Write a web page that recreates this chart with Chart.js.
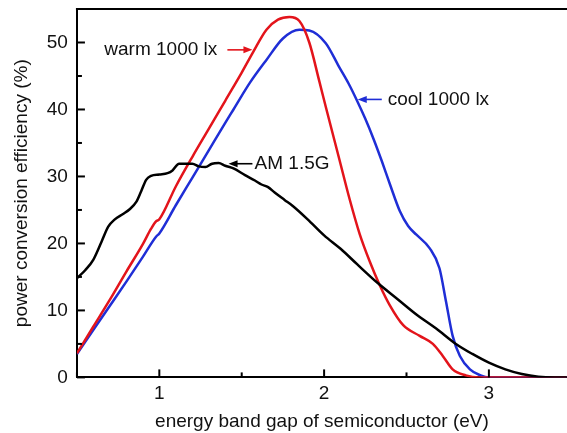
<!DOCTYPE html>
<html><head><meta charset="utf-8">
<script src="https://cdn.jsdelivr.net/npm/chart.js@4"></script>
<style>html,body{margin:0;padding:0;background:#fff;}#wrap{width:567px;height:433px;position:relative;}</style>
</head><body><div id="wrap"><canvas id="c"></canvas></div>
<script>
// ---- data ----
const amX   = [0.50,0.55,0.60,0.65,0.69,0.73,0.78,0.82,0.86,0.89,0.92,0.95,1.00,1.05,1.08,1.12,1.20,1.24,1.28,1.32,1.36,1.40,1.45,1.52,1.58,1.62,1.66,1.70,1.76,1.81,1.90,2.00,2.10,2.20,2.32,2.45,2.56,2.68,2.80,2.90,3.00,3.10,3.20,3.30,3.40,3.47];
const amY   = [14.8,16.0,17.6,20.3,22.5,23.6,24.4,25.1,26.2,27.8,29.5,30.1,30.3,30.5,30.9,31.9,31.9,31.5,31.4,31.9,32.0,31.6,31.2,30.2,29.4,28.8,28.4,27.6,26.5,25.6,23.6,21.2,19.2,16.9,14.2,11.6,9.4,7.3,5.0,3.5,2.2,1.2,0.5,0.1,0,0];
const warmX = [0.50,0.60,0.70,0.80,0.90,0.95,0.98,1.00,1.10,1.20,1.30,1.40,1.50,1.57,1.65,1.72,1.79,1.85,1.91,1.97,2.01,2.05,2.09,2.155,2.216,2.277,2.337,2.398,2.48,2.58,2.66,2.72,2.78,2.86,2.94,3.47];
const warmY = [3.6,7.6,11.6,15.8,19.9,22.2,23.3,23.6,28.5,32.9,37.1,41.3,45.5,48.6,51.9,53.4,53.8,53.2,50.0,44.3,40.4,36.6,32.8,26.6,21.4,17.3,13.8,10.8,7.8,6.2,5.0,3.2,1.2,0.3,0,0];
const coolX = [0.50,0.60,0.70,0.80,0.90,0.98,1.00,1.10,1.20,1.30,1.40,1.45,1.55,1.65,1.75,1.85,1.91,2.01,2.09,2.15,2.20,2.25,2.30,2.35,2.40,2.46,2.51,2.56,2.64,2.70,2.74,2.78,2.824,2.885,2.95,3.00,3.47];
const coolY = [3.5,7.1,10.7,14.3,18.0,21.0,21.5,25.7,29.8,33.9,38.0,40.0,44.0,47.4,50.6,51.9,51.8,49.9,46.4,43.8,41.3,38.6,35.6,32.3,28.8,24.8,22.6,21.3,19.3,16.3,11.3,6.2,3.2,1.2,0.3,0,0];
const seriesNames = ['AM 1.5G','warm 1000 lx','cool 1000 lx'];
const xTickValues = [0.5,1,1.5,2,2.5,3,3.5];
const xTickLabels = ['','1','','2','','3',''];
const yTickValues = [0,5,10,15,20,25,30,35,40,45,50,55];
const yTickLabels = ['0','','10','','20','','30','','40','','50',''];

const FONT = "'Liberation Sans', Arial, Helvetica, sans-serif";
Chart.defaults.font.family = FONT;
Chart.defaults.font.size = 19;
Chart.defaults.color = '#111';

const pts = (xs, ys) => xs.map((x, i) => ({x, y: ys[i]}));

const annotations = [
  {text: 'warm 1000 lx', color: '#e3141b', tx: 0.666, ty: 48.9, ax0: 1.413, ax1: 1.565},
  {text: 'cool 1000 lx', color: '#1f2ed6', tx: 2.386, ty: 41.5, ax0: 2.350, ax1: 2.204},
  {text: 'AM 1.5G',      color: '#000000', tx: 1.578, ty: 31.9, ax0: 1.565, ax1: 1.420}
];

const decor = {
  id: 'decor',
  afterDraw(chart) {
    const {ctx, chartArea: a, scales: {x, y}} = chart;
    ctx.save();
    ctx.strokeStyle = '#000';
    ctx.lineWidth = 2;
    ctx.beginPath(); ctx.moveTo(a.left - 1, a.top); ctx.lineTo(a.right, a.top); ctx.stroke();
    x.ticks.forEach((t) => {
      const px = x.getPixelForValue(t.value);
      const len = (t.value % 1 === 0) ? 8 : 5;
      ctx.beginPath(); ctx.moveTo(px, a.bottom); ctx.lineTo(px, a.bottom - len); ctx.stroke();
    });
    y.ticks.forEach((t) => {
      const py = y.getPixelForValue(t.value);
      const len = (t.value % 10 === 0) ? 8 : 5;
      ctx.beginPath(); ctx.moveTo(a.left, py); ctx.lineTo(a.left + len, py); ctx.stroke();
    });
    ctx.font = '19px ' + FONT;
    ctx.textBaseline = 'middle';
    ctx.textAlign = 'left';
    annotations.forEach(an => {
      ctx.fillStyle = '#111';
      ctx.fillText(an.text, x.getPixelForValue(an.tx), y.getPixelForValue(an.ty));
      const py = y.getPixelForValue(an.ty);
      const p0 = x.getPixelForValue(an.ax0), p1 = x.getPixelForValue(an.ax1);
      const dir = Math.sign(p1 - p0);
      ctx.strokeStyle = an.color; ctx.fillStyle = an.color; ctx.lineWidth = 1.6;
      ctx.beginPath(); ctx.moveTo(p0, py); ctx.lineTo(p1 - dir * 6, py); ctx.stroke();
      ctx.beginPath(); ctx.moveTo(p1, py); ctx.lineTo(p1 - dir * 9, py - 3.5); ctx.lineTo(p1 - dir * 9, py + 3.5); ctx.closePath(); ctx.fill();
    });
    ctx.restore();
  }
};

new Chart(document.getElementById('c'), {
  type: 'line',
  data: {
    datasets: [
      {label: seriesNames[0], data: pts(amX, amY), borderColor: '#000000'},
      {label: seriesNames[1], data: pts(warmX, warmY), borderColor: '#e3141b'},
      {label: seriesNames[2], data: pts(coolX, coolY), borderColor: '#1f2ed6'}
    ]
  },
  options: {
    responsive: true,
    maintainAspectRatio: false,
    animation: false,
    elements: {
      point: {radius: 0},
      line: {borderWidth: 2.5, cubicInterpolationMode: 'monotone', fill: false}
    },
    layout: {padding: {left: 10, top: 9, right: 0, bottom: 0}},
    plugins: {legend: {display: false}, tooltip: {enabled: false}},
    scales: {
      x: {
        type: 'linear', min: 0.5, max: 3.474,
        afterBuildTicks: s => { s.ticks = xTickValues.filter(v => v >= s.min && v <= s.max).map(v => ({value: v})); },
        afterFit: s => { s.paddingRight = 0; },
        ticks: {callback: v => xTickLabels[xTickValues.indexOf(v)] ?? '', padding: 5, maxRotation: 0, autoSkip: false, color: '#111'},
        grid: {display: false, drawTicks: false},
        border: {display: true, color: '#000', width: 2},
        title: {display: true, text: 'energy band gap of semiconductor (eV)', color: '#111', padding: {top: 0, bottom: 0}}
      },
      y: {
        type: 'linear', min: 0, max: 55,
        afterBuildTicks: s => { s.ticks = yTickValues.map(v => ({value: v})); },
        afterFit: s => { s.paddingTop = 0; },
        ticks: {callback: v => yTickLabels[yTickValues.indexOf(v)] ?? '', padding: 9, autoSkip: false, color: '#111'},
        grid: {display: false, drawTicks: false},
        border: {display: true, color: '#000', width: 2},
        title: {display: true, text: 'power conversion efficiency (%)', color: '#111', padding: {top: 0, bottom: 5}}
      }
    }
  },
  plugins: [decor]
});
</script></body></html>
